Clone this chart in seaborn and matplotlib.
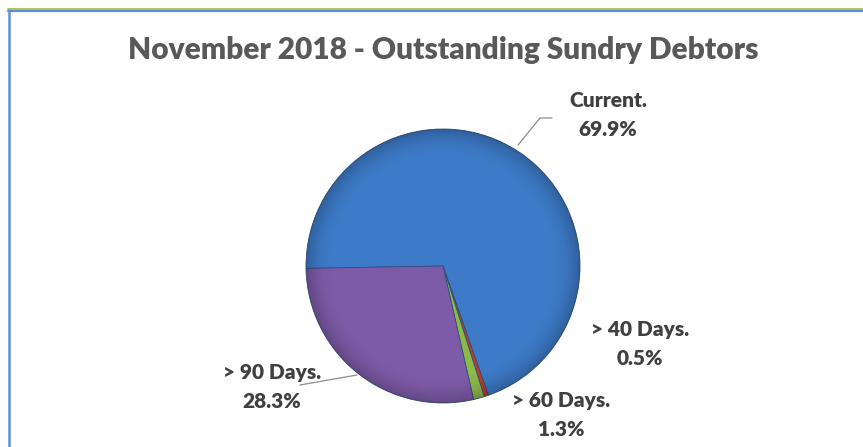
import matplotlib
matplotlib.use("Agg")
import matplotlib.pyplot as plt
import matplotlib.patches as mpatches
import numpy as np
import seaborn as sns

# data
categories = ["Current.", "> 40 Days.", "> 60 Days.", "> 90 Days."]
shares = [69.9, 0.5, 1.3, 28.3]
slice_colors = ["#3d7bc8", "#c0392b", "#8db84a", "#7e5ba8"]
title = "November 2018 - Outstanding Sundry Debtors"

sns.set_theme(style="white")
plt.rcParams["font.family"] = ["Lato", "DejaVu Sans"]

W, H = 863, 447
cx, cy, r = 443, 266, 137
fig = plt.figure(figsize=(W / 100, H / 100), dpi=100)
ax = fig.add_axes([0, 0, 1, 1])

# pie, drawn in pixel space (y axis flipped, so counterclock=True runs clockwise on screen)
wedges, _ = ax.pie(shares, colors=slice_colors, startangle=179, counterclock=True,
                   center=(cx, cy), radius=r, frame=True,
                   wedgeprops=dict(edgecolor="#2f4f7a", linewidth=0.6))

# soft shading over the pie: darker towards the rim
n = 300
gx, gy = np.meshgrid(np.linspace(-1, 1, n), np.linspace(-1, 1, n))
dist = np.sqrt(gx ** 2 + gy ** 2)
shade = np.zeros((n, n, 4))
shade[..., 3] = 0.22 * np.clip((dist - 0.8) / 0.2, 0, 1) ** 2
img = ax.imshow(shade, extent=(cx - r, cx + r, cy + r, cy - r), zorder=3, interpolation="bilinear")
img.set_clip_path(mpatches.Circle((cx, cy), r, transform=ax.transData))

ax.set_xlim(0, W)
ax.set_ylim(H, 0)
ax.set_aspect("equal")
ax.axis("off")

# labels
label_pos = [(608, 115), (640, 344), (561, 415), (272, 387)]
for name, val, (x, y) in zip(categories, shares, label_pos):
    ax.text(x, y, f"{name}\n{val:.1f}%", ha="center", va="center",
            fontsize=15, fontweight="heavy", color="#404040", linespacing=1.6)

# leader lines
ax.plot([518, 540, 552], [145, 118, 118], color="#8c8c8c", lw=0.9)
ax.plot([357, 300], [375, 385], color="#8c8c8c", lw=0.9)

ax.text(443, 50, title, ha="center", va="center", fontsize=21.5,
        fontweight="heavy", color="#595959")

# chart border (only top and left visible)
fig.add_artist(plt.Line2D([8 / W, 1], [1 - 9 / H, 1 - 9 / H], color="#a8b84a", lw=1.2))
fig.add_artist(plt.Line2D([8 / W, 1], [1 - 10.5 / H, 1 - 10.5 / H], color="#5b8fd8", lw=1.6))
fig.add_artist(plt.Line2D([8.5 / W, 8.5 / W], [0, 1 - 10 / H], color="#5b8fd8", lw=1.8))

fig.savefig("out.png", dpi=100)
